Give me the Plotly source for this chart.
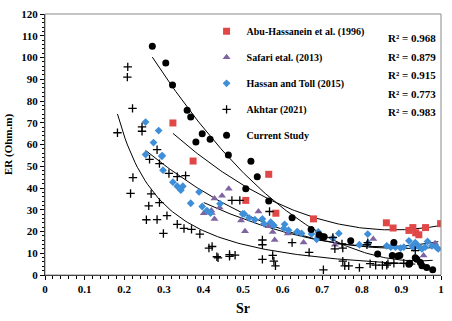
import numpy as np
import plotly.graph_objects as go

# ---------------- data ----------------
abu_x = [0.323, 0.374, 0.507, 0.565, 0.583, 0.678, 0.862, 0.879, 0.919, 0.929, 0.936, 0.944, 0.961, 0.999]
abu_y = [69.9, 52.4, 34.3, 46.3, 28.4, 25.8, 24.0, 21.6, 20.5, 21.8, 19.4, 18.5, 21.8, 23.6]

saf_x = [0.401, 0.420, 0.421, 0.428, 0.428, 0.441, 0.447, 0.464, 0.495, 0.505, 0.539, 0.564, 0.575,
         0.580, 0.613, 0.653, 0.732, 0.829, 0.956, 0.985]
saf_y = [28.4, 29.6, 28.5, 35.2, 25.8, 31.0, 36.4, 39.7, 25.1, 20.1, 29.2, 22.4, 19.8,
         16.1, 19.1, 14.9, 13.9, 16.6, 9.0, 14.6]

has_x = [0.254, 0.287, 0.274, 0.296, 0.254, 0.295, 0.298, 0.323, 0.334, 0.348, 0.343, 0.389, 0.368,
         0.397, 0.409, 0.418, 0.442, 0.499, 0.503, 0.515, 0.530, 0.549, 0.553, 0.570, 0.575, 0.578,
         0.603, 0.605, 0.615, 0.636, 0.638, 0.648, 0.673, 0.686, 0.690, 0.690, 0.727, 0.742, 0.794,
         0.815, 0.816, 0.863, 0.873, 0.885, 0.898, 0.906, 0.919, 0.927, 0.931, 0.935, 0.944, 0.952,
         0.960, 0.966, 0.977, 0.988, 0.993]
has_y = [70.3, 66.4, 60.9, 54.9, 55.4, 54.6, 48.2, 42.7, 40.8, 40.8, 39.0, 38.2, 33.0,
         31.5, 29.6, 28.5, 32.8, 28.1, 28.1, 26.3, 25.4, 25.8, 23.6, 24.3, 23.2, 22.8,
         21.4, 23.3, 20.6, 19.8, 19.8, 19.1, 18.8, 16.4, 17.6, 19.8, 16.9, 19.1, 13.9,
         18.8, 14.6, 13.4, 12.8, 12.8, 12.4, 12.8, 15.7, 13.4, 12.4, 14.9, 13.1, 12.0,
         12.8, 15.4, 13.4, 12.8, 12.0]

akh_x = [0.183, 0.208, 0.209, 0.221, 0.245, 0.245, 0.222, 0.216, 0.262, 0.256, 0.283, 0.264, 0.289,
         0.313, 0.334, 0.355, 0.268, 0.289, 0.308, 0.283, 0.334, 0.351, 0.370, 0.391, 0.299, 0.414,
         0.422, 0.434, 0.437, 0.466, 0.466, 0.480, 0.472, 0.492, 0.549, 0.549, 0.549, 0.575, 0.578,
         0.582, 0.567, 0.624, 0.667, 0.703, 0.727, 0.732, 0.750, 0.752, 0.752, 0.757, 0.767, 0.794,
         0.813, 0.815, 0.821, 0.835, 0.852, 0.863, 0.866, 0.881, 0.906, 0.935]
akh_y = [65.4, 91.0, 95.7, 76.6, 68.1, 66.1, 44.8, 37.5, 31.8, 25.4, 57.6, 53.2, 51.2,
         46.7, 45.2, 45.7, 37.3, 33.3, 27.3, 25.5, 23.3, 21.4, 21.0, 18.8, 19.1, 12.4,
         13.1, 8.4, 7.9, 9.4, 8.6, 9.1, 34.3, 34.3, 16.1, 13.9, 7.2, 9.0, 6.4,
         4.2, 29.2, 14.9, 10.4, 2.4, 17.3, 12.0, 14.3, 12.4, 6.4, 4.2, 4.2, 3.4,
         13.9, 14.9, 5.2, 4.5, 4.5, 4.5, 5.2, 5.4, 5.4, 11.2]

cur_x = [0.271, 0.305, 0.322, 0.359, 0.368, 0.381, 0.397, 0.417, 0.463, 0.520, 0.507, 0.536, 0.565,
         0.624, 0.672, 0.692, 0.700, 0.705, 0.772, 0.840, 0.877, 0.881, 0.891, 0.896, 0.919, 0.921,
         0.935, 0.939, 0.948, 0.952, 0.964, 0.979]
cur_y = [105.2, 97.5, 87.3, 75.8, 72.7, 61.2, 64.9, 62.4, 55.2, 52.3, 39.7, 45.2, 34.0,
         26.3, 20.9, 18.5, 17.6, 17.6, 15.8, 9.7, 9.0, 14.9, 8.7, 9.0, 4.9, 5.4,
         7.9, 7.2, 5.7, 4.2, 3.4, 2.4]

names = ["Abu-Hassanein et al. (1996)", "Safari etal. (2013)", "Hassan and Toll (2015)",
         "Akhtar (2021)", "Current Study"]
r2_labels = ["R² = 0.968", "R² = 0.879", "R² = 0.915", "R² = 0.773", "R² = 0.983"]

x_ticks = [0, 0.1, 0.2, 0.3, 0.4, 0.5, 0.6, 0.7, 0.8, 0.9, 1]
y_ticks = [0, 10, 20, 30, 40, 50, 60, 70, 80, 90, 100, 110, 120]

# ---------------- styling ----------------
FONT = "Liberation Serif"
series = [
    (abu_x, abu_y, "square", "#E04848", 7, "poly"),
    (saf_x, saf_y, "triangle-up", "#8064A2", 7, "poly"),
    (has_x, has_y, "diamond", "#3F8FD8", 6, "poly"),
    (akh_x, akh_y, "cross-thin", "black", 6, "power"),
    (cur_x, cur_y, "circle", "black", 7, "poly"),
]

fig = go.Figure()

# trend lines fitted to each series
for xs, ys, sym, col, sz, kind in series:
    xa = np.array(xs); ya = np.array(ys)
    xf = np.linspace(xa.min(), xa.max(), 120)
    if kind == "poly":
        c = np.polyfit(xa, ya, 2)
        yf = np.polyval(c, xf)
    else:
        b, a = np.polyfit(np.log(xa), np.log(ya), 1)
        yf = np.exp(a) * xf ** b
    fig.add_trace(go.Scatter(x=xf, y=yf, mode="lines", line=dict(color="black", width=1),
                             showlegend=False, hoverinfo="skip"))

for i, (xs, ys, sym, col, sz, kind) in enumerate(series):
    mk = dict(symbol=sym, color=col, size=sz)
    if sym == "cross-thin":
        mk["line"] = dict(color="black", width=1.3)
    fig.add_trace(go.Scatter(x=xs, y=ys, mode="markers", name=f"<b>{names[i]}</b>", marker=mk,
                             legendgroup=f"g{i}"))

r2_y = [0.908, 0.837, 0.765, 0.694, 0.626]
for lab, yy in zip(r2_labels, r2_y):
    fig.add_annotation(x=0.928, y=yy, xref="paper", yref="paper", text=f"<b>{lab}</b>",
                       showarrow=False, font=dict(family=FONT, size=11, color="black"),
                       xanchor="center", yanchor="middle")

# gray frame (top / right)
fig.add_shape(type="rect", xref="paper", yref="paper", x0=0, y0=0, x1=1, y1=1,
              line=dict(color="#888888", width=1))

axis_font = dict(family=FONT, size=11, color="black")
fig.update_layout(
    width=452, height=321,
    margin=dict(l=43, r=8, t=8, b=45),
    paper_bgcolor="white", plot_bgcolor="white",
    font=dict(family=FONT, color="black"),
    showlegend=True,
    legend=dict(x=0.408, y=0.989, xanchor="left", yanchor="top",
                font=dict(family=FONT, size=10, color="black"),
                bgcolor="rgba(0,0,0,0)", traceorder="grouped", tracegroupgap=7),
    xaxis=dict(range=[0, 1], tickvals=x_ticks, ticktext=[f"<b>{v}</b>" for v in x_ticks],
               ticks="outside", ticklen=4, tickcolor="black", showline=True, linecolor="black",
               linewidth=1, showgrid=False, zeroline=False, tickfont=axis_font,
               minor=dict(dtick=0.02, ticks="outside", ticklen=3, tickcolor="black"),
               title=dict(text="<b>Sr</b>", font=dict(family=FONT, size=14, color="black"),
                          standoff=8)),
    yaxis=dict(range=[0, 120], tickvals=y_ticks, ticktext=[f"<b>{v}</b>" for v in y_ticks],
               ticks="outside", ticklen=4, tickcolor="black",
               showline=True, linecolor="black", linewidth=1, showgrid=False, zeroline=False,
               tickfont=axis_font,
               minor=dict(dtick=2, ticks="outside", ticklen=2, tickcolor="black"),
               title=dict(text="<b>ER (Ohm.m)</b>", font=dict(family=FONT, size=11, color="black"),
                          standoff=6)),
)

fig.write_html("out.html", config={"displayModeBar": False},
               post_script="document.body.style.margin='0px';")
